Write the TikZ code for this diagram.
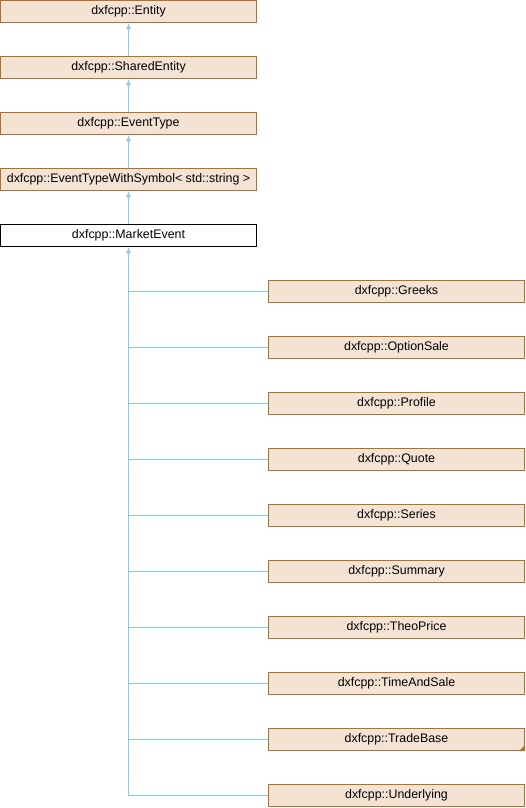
\documentclass[tikz,border=0pt]{standalone}
\usepackage{fontspec}
\setmainfont{Liberation Sans}
\usetikzlibrary{arrows.meta}
\definecolor{boxfill}{HTML}{F4E3D3}
\definecolor{boxline}{HTML}{B0702C}
\definecolor{edgeblue}{HTML}{8CC8EA}
\tikzstyle{classbox}=[
        draw=boxline,
        fill=boxfill,
        line width=1pt,
        minimum width=256pt,
        minimum height=22pt,
        inner sep=0pt,
        font=\fontsize{12.4}{14}\selectfont
]
\tikzstyle{mainbox}=[classbox, draw=black, fill=white]
\tikzstyle{inherit}=[
        draw=edgeblue,
        line width=1pt,
        {Latex[length=6pt,width=5pt]}-
]
\tikzstyle{branch}=[draw=edgeblue, line width=1pt]

\begin{document}
\begin{tikzpicture}[x=1pt,y=-1pt]
                    \useasboundingbox (0,0) rectangle (526,808);

                    \node[classbox] (entity) at (128.5,11.5) {dxfcpp::Entity};
                    \node[classbox] (shared) at (128.5,67.5) {dxfcpp::SharedEntity};
                    \node[classbox] (eventtype) at (128.5,123.5) {dxfcpp::EventType};
                    \node[classbox] (withsymbol) at (128.5,179.5) {dxfcpp::EventTypeWithSymbol< std::string >};
                    \node[mainbox] (market) at (128.5,235.5) {dxfcpp::MarketEvent};

                    \draw[inherit] (entity.south) -- (shared.north);
                    \draw[inherit] (shared.south) -- (eventtype.north);
                    \draw[inherit] (eventtype.south) -- (withsymbol.north);
                    \draw[inherit] (withsymbol.south) -- (market.north);

                    \foreach \name/\label [count=\i from 0] in {greeks/Greeks, optionsale/OptionSale, profile/Profile, quote/Quote, series/Series, summary/Summary, theoprice/TheoPrice, timeandsale/TimeAndSale, tradebase/TradeBase, underlying/Underlying} {
                        \node[classbox] (\name) at (396.5,291.5+56*\i) {dxfcpp::\label};
                    }

                    \draw[inherit] (market.south) |- (underlying.west);

                    \foreach \name in {greeks,optionsale,profile,quote,series,summary,theoprice,timeandsale,tradebase} {
                        \draw[branch] (\name.west) -- (\name.west -| market.south);
                    }

                    \fill[boxline] (tradebase.south east) -- ++(-6,0) -- ++(6,-6) -- cycle;

                \end{tikzpicture}
\end{document}
